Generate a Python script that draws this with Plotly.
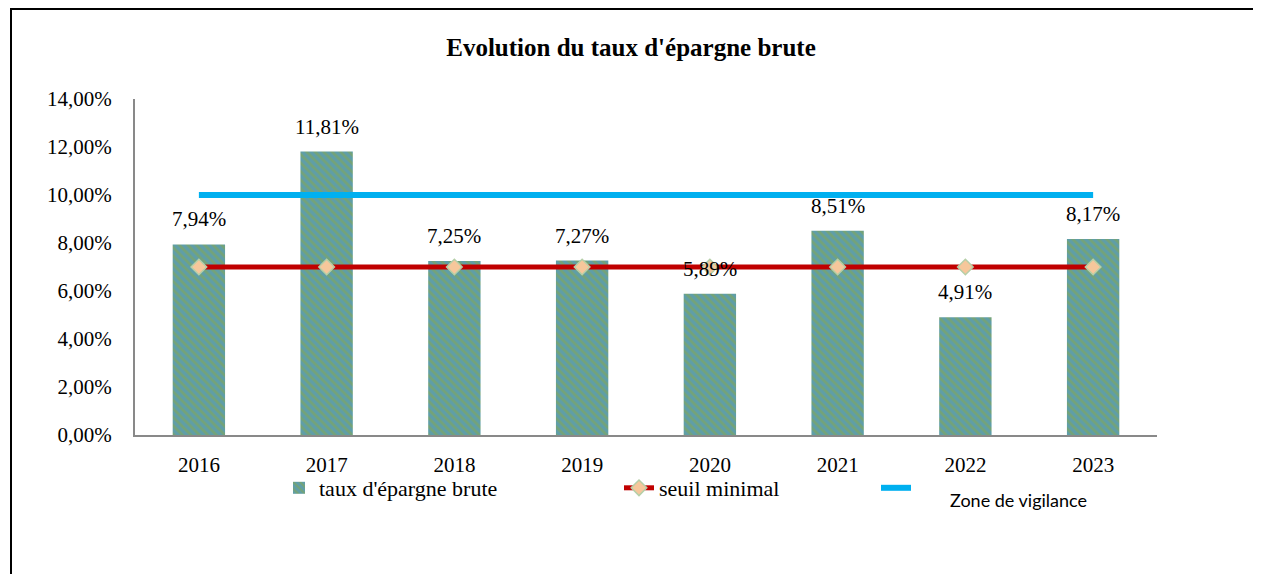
import plotly.graph_objects as go

years = ["2016", "2017", "2018", "2019", "2020", "2021", "2022", "2023"]
taux_epargne = [0.0794, 0.1181, 0.0725, 0.0727, 0.0589, 0.0851, 0.0491, 0.0817]
seuil_minimal = [0.07] * 8
zone_vigilance = [0.10] * 8

# The page body has an 8px margin; work in figure pixels (screen - 8)
OFF = 8
W, H = 1253, 566
ML, MR, MT, MB = 127, 104, 91, 139
PW, PH = W - ML - MR, H - MT - MB


def px_x(sx):
    return (sx - OFF - ML) / PW


def px_y(sy):
    return (H - MB - (sy - OFF)) / PH


SERIF = "Liberation Serif"
idx = list(range(len(years)))

fig = go.Figure()
fig.add_trace(go.Bar(
    x=idx, y=taux_epargne, name="taux d'épargne brute",
    width=0.41, legend="legend",
    marker=dict(color="#5f9ea8",
                line=dict(width=0),
                pattern=dict(shape="\\", bgcolor="#5f9ea8", fgcolor="#74a378",
                             size=6, solidity=0.45, fillmode="replace")),
    hoverinfo="skip",
))
fig.add_trace(go.Scatter(
    x=idx, y=seuil_minimal, name="seuil minimal", mode="lines+markers",
    legend="legend2",
    line=dict(color="#c00000", width=5),
    marker=dict(symbol="diamond", size=12, color="#f6c79b",
                line=dict(color="#b5cfa8", width=1.5)),
    hoverinfo="skip",
))
fig.add_trace(go.Scatter(
    x=idx, y=zone_vigilance, name="\u2009", mode="lines",
    legend="legend3",
    line=dict(color="#00b0f0", width=6),
    hoverinfo="skip",
))

for i, v in enumerate(taux_epargne):
    fig.add_annotation(
        x=i, y=v, xref="x", yref="y", text=f"{v*100:.2f}%".replace(".", ","),
        showarrow=False, yanchor="middle", yshift=25,
        font=dict(family=SERIF, size=21, color="#000000"),
    )

fig.add_annotation(
    x=px_x(1018), y=px_y(500), xref="paper", yref="paper",
    text="Zone de vigilance", showarrow=False,
    xanchor="center", yanchor="middle",
    font=dict(family="Lato", size=18, color="#000000"),
)

# outer border (left and top)
fig.add_shape(type="line", xref="paper", yref="paper",
              x0=px_x(11), x1=px_x(11), y0=px_y(9), y1=px_y(H + OFF + 5),
              line=dict(color="#000000", width=2))
fig.add_shape(type="line", xref="paper", yref="paper",
              x0=px_x(10), x1=px_x(W + OFF + 5), y0=px_y(9), y1=px_y(9),
              line=dict(color="#000000", width=2))

legend_common = dict(orientation="h", xanchor="left", yanchor="middle",
                     font=dict(family=SERIF, size=22, color="#000000"),
                     bgcolor="rgba(0,0,0,0)", itemwidth=30)

fig.update_layout(
    width=W, height=H,
    margin=dict(l=ML, r=MR, t=MT, b=MB, autoexpand=False),
    paper_bgcolor="#ffffff", plot_bgcolor="#ffffff",
    separators=", ",
    title=dict(text="<b>Evolution du taux d'épargne brute</b>",
               x=px_x(631), xanchor="center", xref="paper",
               y=1 - (47 - OFF) / H, yanchor="middle",
               font=dict(family=SERIF, size=25, color="#000000")),
    xaxis=dict(type="linear", showgrid=False, showline=True, linecolor="#898989",
               linewidth=2, ticks="", zeroline=False,
               tickmode="array", tickvals=idx, ticktext=years,
               tickfont=dict(family=SERIF, size=21, color="#000000"),
               ticklabelstandoff=10, range=[-0.5, 7.5], fixedrange=True),
    yaxis=dict(range=[0, 0.14], dtick=0.02, tickformat=".2%",
               showgrid=False, showline=True, linecolor="#898989", linewidth=2,
               ticks="", zeroline=False,
               tickfont=dict(family=SERIF, size=21, color="#000000"),
               ticklabelstandoff=17, fixedrange=True),
    showlegend=True,
    legend=dict(x=px_x(279), y=px_y(488), **legend_common),
    legend2=dict(x=px_x(619), y=px_y(488), **legend_common),
    legend3=dict(x=px_x(876), y=px_y(488), **legend_common),
)

fig.write_html("out.html")
